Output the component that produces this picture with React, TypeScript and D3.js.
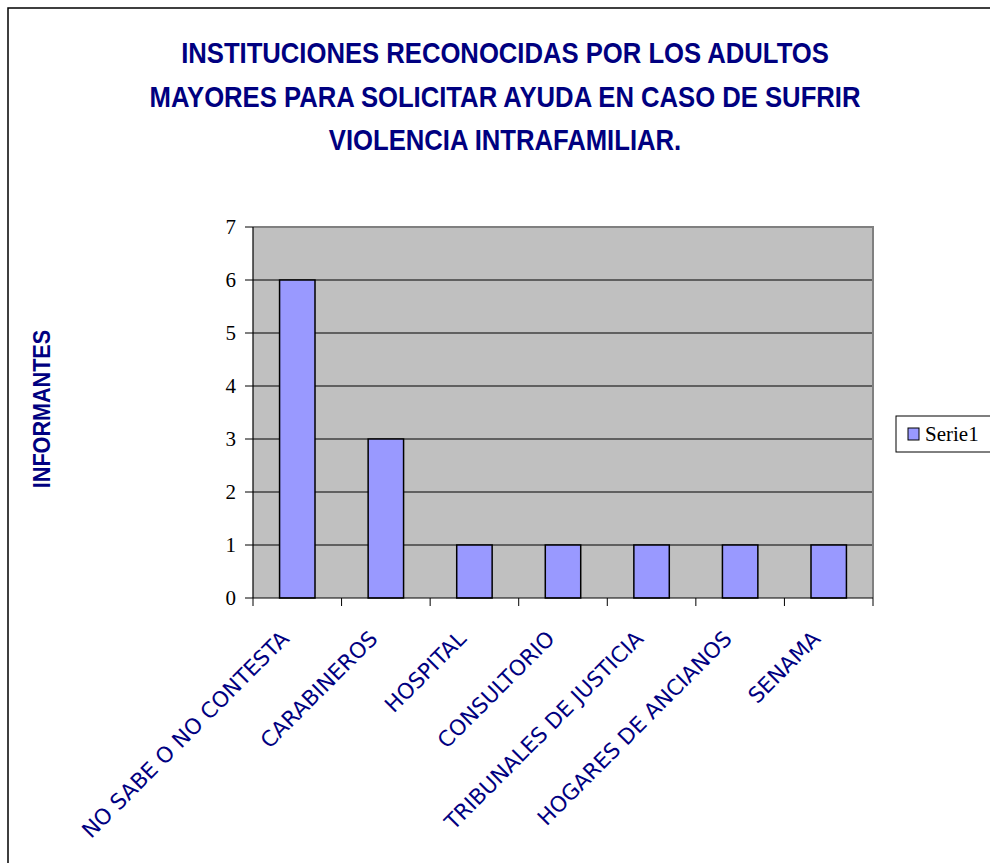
import React from "react";
import * as d3 from "d3";

const categories = [
  "NO SABE O NO CONTESTA",
  "CARABINEROS",
  "HOSPITAL",
  "CONSULTORIO",
  "TRIBUNALES DE JUSTICIA",
  "HOGARES DE ANCIANOS",
  "SENAMA",
];
const values = [6, 3, 1, 1, 1, 1, 1];
const yTicks = [0, 1, 2, 3, 4, 5, 6, 7];
const titleLines = [
  "INSTITUCIONES RECONOCIDAS POR LOS ADULTOS",
  "MAYORES PARA SOLICITAR AYUDA EN CASO DE SUFRIR",
  "VIOLENCIA INTRAFAMILIAR.",
];
const yLabel = "INFORMANTES";
const seriesName = "Serie1";

const W = 990;
const H = 863;
const plot = { left: 253, right: 873, top: 227, bottom: 598 };
const navy = "#000080";
const barFill = "#9999FF";

export default function App() {
  const x = d3
    .scaleBand<number>()
    .domain(d3.range(categories.length))
    .range([plot.left, plot.right]);
  const y = d3.scaleLinear().domain([0, 7]).range([plot.bottom, plot.top]);
  const bw = x.bandwidth() / 2.5;
  const boundaries = d3.range(categories.length + 1).map((i) => plot.left + i * x.step());

  return (
    <svg
      width={W}
      height={H}
      style={{ position: "absolute", left: 0, top: 0, display: "block", background: "#fff" }}
    >
      {/* chart frame */}
      <rect x={8} y={8} width={W + 20} height={H + 20} fill="#fff" stroke="#000" strokeWidth={1.5} />

      {/* title */}
      {titleLines.map((t, i) => (
        <text
          key={i}
          transform={`translate(505,${63 + i * 43.5}) scale(0.87,1)`}
          textAnchor="middle"
          fontFamily="'Liberation Sans', Arial, sans-serif"
          fontWeight="bold"
          fontSize={29.5}
          fill={navy}
        >
          {t}
        </text>
      ))}

      {/* y label */}
      <text
        transform={`translate(50,409) rotate(-90) scale(0.9,1)`}
        textAnchor="middle"
        fontFamily="'Liberation Sans', Arial, sans-serif"
        fontWeight="bold"
        fontSize={24}
        fill={navy}
      >
        {yLabel}
      </text>

      {/* plot area */}
      <rect
        x={plot.left}
        y={plot.top}
        width={plot.right - plot.left}
        height={plot.bottom - plot.top}
        fill="#C0C0C0"
      />
      {yTicks
        .filter((t) => t > 0 && t < 7)
        .map((t) => (
          <line key={t} x1={plot.left} x2={plot.right} y1={y(t)} y2={y(t)} stroke="#000" strokeWidth={1} />
        ))}
      {/* gray border top/right */}
      <polyline
        points={`${plot.left},${plot.top} ${plot.right},${plot.top} ${plot.right},${plot.bottom}`}
        fill="none"
        stroke="#808080"
        strokeWidth={2}
      />

      {/* bars */}
      {values.map((v, i) => {
        const cx = (x(i) as number) + x.bandwidth() / 2;
        return (
          <rect
            key={i}
            x={cx - bw / 2}
            y={y(v)}
            width={bw}
            height={y(0) - y(v)}
            fill={barFill}
            stroke="#000"
            strokeWidth={1.5}
          />
        );
      })}

      {/* axes */}
      <line x1={plot.left} x2={plot.left} y1={plot.top} y2={plot.bottom} stroke="#000" strokeWidth={1.2} />
      <line x1={plot.left} x2={plot.right} y1={plot.bottom} y2={plot.bottom} stroke="#000" strokeWidth={1.2} />
      {yTicks.map((t) => (
        <g key={t}>
          <line x1={plot.left - 8} x2={plot.left} y1={y(t)} y2={y(t)} stroke="#000" strokeWidth={1} />
          <text
            x={236}
            y={y(t) + 7}
            textAnchor="end"
            fontFamily="'Liberation Serif', 'Times New Roman', serif"
            fontSize={21}
            fill="#000"
          >
            {t}
          </text>
        </g>
      ))}
      {boundaries.map((bx, i) => (
        <line key={i} x1={bx} x2={bx} y1={plot.bottom} y2={plot.bottom + 8} stroke="#000" strokeWidth={1} />
      ))}
      {categories.map((c, i) => {
        const cx = (x(i) as number) + x.bandwidth() / 2;
        return (
          <text
            key={i}
            transform={`translate(${cx - 7},${plot.bottom + 42}) rotate(-45)`}
            textAnchor="end"
            fontFamily="'DejaVu Sans', Verdana, sans-serif"
            fontSize={21.5}
            fill={navy}
          >
            {c}
          </text>
        );
      })}

      {/* legend */}
      <rect x={896} y={416} width={120} height={36} fill="#fff" stroke="#000" strokeWidth={1} />
      <rect x={908} y={428} width={11} height={12} fill={barFill} stroke="#000" strokeWidth={1} />
      <text
        x={925}
        y={441}
        fontFamily="'Liberation Serif', 'Times New Roman', serif"
        fontSize={21}
        fill="#000"
      >
        {seriesName}
      </text>
    </svg>
  );
}
